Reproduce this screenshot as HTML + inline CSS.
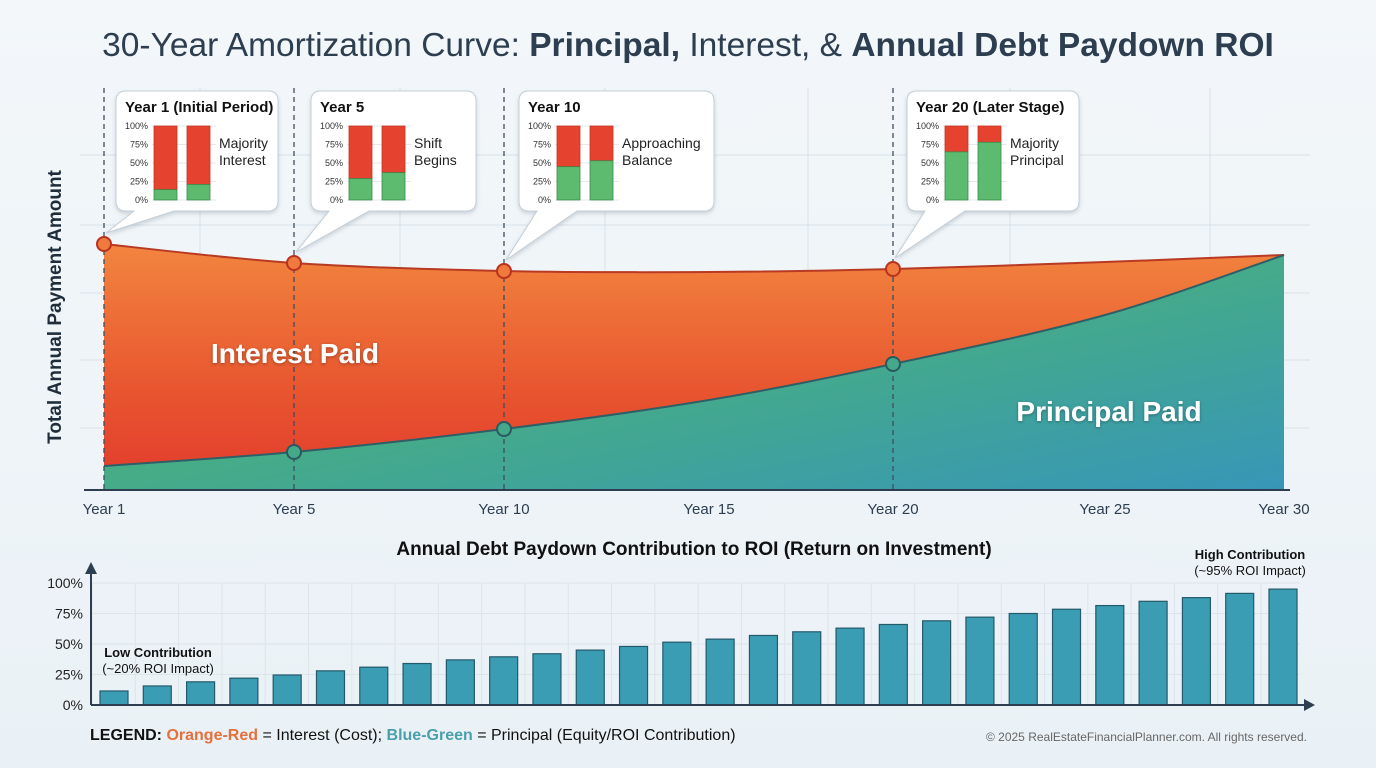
<!DOCTYPE html>
<html><head><meta charset="utf-8">
<style>
html,body{margin:0;padding:0;width:1376px;height:768px;overflow:hidden;background:#eef4f8;font-family:"Liberation Sans",sans-serif}
svg{display:block}
text{font-family:"Liberation Sans",sans-serif}
</style></head>
<body>
<svg id="s" width="1376" height="768" viewBox="0 0 1376 768">
<defs>
<linearGradient id="bg" x1="0" y1="0" x2="0" y2="1"><stop offset="0" stop-color="#f3f7fa"/><stop offset="1" stop-color="#eaf1f6"/></linearGradient>
<linearGradient id="gInt" x1="0" y1="0" x2="0" y2="1"><stop offset="0" stop-color="#f2853f"/><stop offset="0.6" stop-color="#e8552f"/><stop offset="1" stop-color="#e23a2c"/></linearGradient>
<linearGradient id="gPri" x1="0" y1="0" x2="1" y2="1"><stop offset="0" stop-color="#5bbd72"/><stop offset="0.5" stop-color="#45ab88"/><stop offset="1" stop-color="#3796b8"/></linearGradient>
<filter id="sh" x="-10%" y="-10%" width="120%" height="130%"><feDropShadow dx="0" dy="2" stdDeviation="2" flood-color="#6a7a8a" flood-opacity="0.3"/></filter>
<filter id="ts"><feDropShadow dx="0" dy="1" stdDeviation="1.5" flood-color="#000" flood-opacity="0.35"/></filter>
</defs>
<rect width="1376" height="768" fill="url(#bg)"/>
<text x="688" y="56" text-anchor="middle" font-size="33.5" fill="#2c3e50">30-Year Amortization Curve: <tspan font-weight="bold">Principal,</tspan> Interest, &amp; <tspan font-weight="bold">Annual Debt Paydown ROI</tspan></text>
<g id="main"></g>
<g id="bottom"></g>
</svg>
<script>
// ---- main chart data ----
const years = [1, 5, 10, 15, 20, 25, 30];
const yearLabels = ["Year 1","Year 5","Year 10","Year 15","Year 20","Year 25","Year 30"];
const totalPayment = [98.4, 90.8, 87.6, 87.2, 88.4, 91.2, 94];
const principalPaid = [9.6, 15.2, 24.4, 36, 50.4, 70, 94];
const markerYears = [1, 5, 10, 20];
// callouts
const calloutTitles = ["Year 1 (Initial Period)","Year 5","Year 10","Year 20 (Later Stage)"];
const calloutNotes = [["Majority","Interest"],["Shift","Begins"],["Approaching","Balance"],["Majority","Principal"]];
const calloutBarA = [14, 29, 45, 65];
const calloutBarB = [21, 37, 53, 78];
const miniTicks = ["100%","75%","50%","25%","0%"];
// ---- bottom chart data ----
const roiBars = [11.5,15.6,19,22,24.6,28,31,34,37,39.5,42,45,48,51.5,54,57,60,63,66,69,72,75,78.5,81.5,85,88,91.5,95];
const roiTicks = [0,25,50,75,100];

const NS="http://www.w3.org/2000/svg";
function mk(tag,attrs,parent){const e=document.createElementNS(NS,tag);for(const k in attrs)e.setAttribute(k,attrs[k]);parent.appendChild(e);return e;}

const tickPx=[104,294,504,709,893,1105,1284];
function xS(yr){for(let i=0;i<years.length-1;i++){if(yr<=years[i+1]){const t=(yr-years[i])/(years[i+1]-years[i]);return tickPx[i]+t*(tickPx[i+1]-tickPx[i]);}}return tickPx[tickPx.length-1];}
const base=490;
function yS(v){return base-v*2.5;}
const main=document.getElementById('main');

[155,225,293,360,428].forEach(y=>{const l=mk('line',{x1:80,x2:1310,y1:y,y2:y,stroke:'#d8e1e9','stroke-width':1},main);

});
[200,400,605,808,1010,1210].forEach(x=>{const l=mk('line',{x1:x,x2:x,y1:88,y2:490,stroke:'#d8e1e9','stroke-width':1},main);

});

function pts(vals){return years.map((yr,i)=>[xS(yr),yS(vals[i])]);}
function smooth(p){let d='';for(let i=0;i<p.length-1;i++){const p0=p[Math.max(0,i-1)],p1=p[i],p2=p[i+1],p3=p[Math.min(p.length-1,i+2)];const c1=[p1[0]+(p2[0]-p0[0])/6,p1[1]+(p2[1]-p0[1])/6],c2=[p2[0]-(p3[0]-p1[0])/6,p2[1]-(p3[1]-p1[1])/6];d+=` C${c1[0]},${c1[1]} ${c2[0]},${c2[1]} ${p2[0]},${p2[1]}`;}return d;}
const tp=pts(totalPayment),pp=pts(principalPaid);
const x0=xS(years[0]),x1=xS(years[years.length-1]);
const intArea=mk('path',{d:`M${tp[0][0]},${tp[0][1]}`+smooth(tp)+` L${x1},${base} L${x0},${base} Z`,fill:'url(#gInt)'},main);


const priArea=mk('path',{d:`M${pp[0][0]},${pp[0][1]}`+smooth(pp)+` L${x1},${base} L${x0},${base} Z`,fill:'url(#gPri)'},main);


const tl=mk('path',{d:`M${tp[0][0]},${tp[0][1]}`+smooth(tp),fill:'none',stroke:'#b83a22','stroke-width':2},main);


const pl=mk('path',{d:`M${pp[0][0]},${pp[0][1]}`+smooth(pp),fill:'none',stroke:'#2f5f66','stroke-width':2},main);



markerYears.forEach(yr=>{const l=mk('line',{x1:xS(yr),x2:xS(yr),y1:88,y2:base,stroke:'#3d4e5e','stroke-width':1.3,'stroke-dasharray':'5,4'},main);

});

const il=mk('text',{x:295,y:363,'text-anchor':'middle','font-size':28,'font-weight':'bold',fill:'#fff',filter:'url(#ts)'},main);il.textContent='Interest Paid';


const pl2=mk('text',{x:1109,y:421,'text-anchor':'middle','font-size':28,'font-weight':'bold',fill:'#fff',filter:'url(#ts)'},main);pl2.textContent='Principal Paid';



markerYears.forEach(yr=>{const i=years.indexOf(yr);
const c=mk('circle',{cx:xS(yr),cy:yS(totalPayment[i]),r:7,fill:'#f07a3e',stroke:'#b8321e','stroke-width':2},main);


if(yr>1){const c2=mk('circle',{cx:xS(yr),cy:yS(principalPaid[i]),r:7,fill:'#45a88a',stroke:'#2a5a60','stroke-width':2},main);

}});

const ax=mk('line',{x1:84,x2:1290,y1:base,y2:base,stroke:'#2c3e50','stroke-width':2},main);


yearLabels.forEach((lab,i)=>{const t=mk('text',{x:xS(years[i]),y:514,'text-anchor':'middle','font-size':15,fill:'#2c3e50'},main);t.textContent=lab;

});
const yt=mk('text',{x:0,y:0,transform:'translate(61,307) rotate(-90)','text-anchor':'middle','font-size':19,'font-weight':'bold',fill:'#1f2d3a'},main);yt.textContent='Total Annual Payment Amount';



const boxX=[116,311,519,907],boxW=[162,165,195,172];
markerYears.forEach((yr,k)=>{
 const g=mk('g',{filter:'url(#sh)'},main);
 
 
 const bx=boxX[k],bw=boxW[k],by=91,bh=120,px=xS(yr),py=yS(totalPayment[years.indexOf(yr)])-11;
 mk('path',{d:`M${bx+10},${by} H${bx+bw-10} Q${bx+bw},${by} ${bx+bw},${by+10} V${by+bh-10} Q${bx+bw},${by+bh} ${bx+bw-10},${by+bh} H${bx+58} L${px+2},${py} L${bx+18},${by+bh} H${bx+10} Q${bx},${by+bh} ${bx},${by+bh-10} V${by+10} Q${bx},${by} ${bx+10},${by} Z`,fill:'#fff',stroke:'#c5cfd8','stroke-width':1},g);
 const tt=mk('text',{x:bx+9,y:by+21,'font-size':15,'font-weight':'bold',fill:'#111'},main);tt.textContent=calloutTitles[k];
 
 
 const top=126,bot=200,h=bot-top;
 miniTicks.forEach((m,j)=>{const t=mk('text',{x:bx+32,y:top+3+j*h/4,'text-anchor':'end','font-size':9,fill:'#333'},main);t.textContent=m;
  
  
  const gl=mk('line',{x1:bx+36,x2:bx+100,y1:top+j*h/4,y2:top+j*h/4,stroke:'#e3e8ec','stroke-width':1},main);
  
  });
 [calloutBarA[k],calloutBarB[k]].forEach((v,j)=>{const x=bx+38+j*33,w=23,gh=h*v/100;
  const r=mk('rect',{x:x,y:top,width:w,height:h-gh,fill:'#e5432f',stroke:'#c53522','stroke-width':0.8},main);
  
  
  const r2=mk('rect',{x:x,y:bot-gh,width:w,height:gh,fill:'#5cbb6e',stroke:'#3a8a4c','stroke-width':0.8},main);
  
  });
 calloutNotes[k].forEach((n,j)=>{const t=mk('text',{x:bx+103,y:148+j*17,'font-size':14,fill:'#222'},main);t.textContent=n;
  
  });
});

const bot=document.getElementById('bottom');
const bBase=705,bTop=583,bx0=91;
function byS(v){return bBase-(bBase-bTop)*v/100;}
function bxS(i){return 114+i*(1283-114)/(roiBars.length-1);}
const bt=mk('text',{x:694,y:555,'text-anchor':'middle','font-size':19,'font-weight':'bold',fill:'#111'},bot);bt.textContent='Annual Debt Paydown Contribution to ROI (Return on Investment)';


roiTicks.forEach(v=>{const y=byS(v);
 const gl=mk('line',{x1:bx0,x2:1300,y1:y,y2:y,stroke:'#dde4ea','stroke-width':1},bot);
 
 
 const t=mk('text',{x:83,y:y+5,'text-anchor':'end','font-size':14,fill:'#222'},bot);t.textContent=v+'%';
 
 });
roiBars.forEach((v,i)=>{const gl=mk('line',{x1:bxS(i)-22,x2:bxS(i)-22,y1:bTop,y2:bBase,stroke:'#dde4ea','stroke-width':1},bot);
 
 });
roiBars.forEach((v,i)=>{const r=mk('rect',{x:bxS(i)-14,y:byS(v),width:28,height:bBase-byS(v),fill:'#3a9db3',stroke:'#245a6a','stroke-width':1.2},bot);
 
 });
const ya=mk('path',{d:`M${bx0},${bBase} V568`,stroke:'#2c3e50','stroke-width':2,fill:'none'},bot);


const yah=mk('path',{d:`M${bx0-6},574 L${bx0},562 L${bx0+6},574 Z`,fill:'#2c3e50'},bot);


const xa=mk('path',{d:`M${bx0},${bBase} H1308`,stroke:'#2c3e50','stroke-width':2,fill:'none'},bot);


const xah=mk('path',{d:`M1304,${bBase-6} L1315,${bBase} L1304,${bBase+6} Z`,fill:'#2c3e50'},bot);


function lbl(x,y,lines,name){const t=mk('text',{x:x,y:y,'text-anchor':'middle','font-size':13,fill:'#111'},bot);
 lines.forEach((l,j)=>{const s=mk('tspan',{x:x,dy:j?16:0,'font-weight':j?'normal':'bold'},t);s.textContent=l;});
 
 }
lbl(158,657,['Low Contribution','(~20% ROI Impact)'],'low-contribution-annotation');
lbl(1250,559,['High Contribution','(~95% ROI Impact)'],'high-contribution-annotation');
const lg=mk('text',{x:90,y:740,'font-size':16,fill:'#111'},bot);
lg.innerHTML='<tspan font-weight="bold">LEGEND: </tspan><tspan font-weight="bold" fill="#e4703c">Orange-Red</tspan> = Interest (Cost); <tspan font-weight="bold" fill="#4aa0aa">Blue-Green</tspan> = Principal (Equity/ROI Contribution)';


const cp=mk('text',{x:1307,y:741,'text-anchor':'end','font-size':12,fill:'#666'},bot);cp.textContent='© 2025 RealEstateFinancialPlanner.com. All rights reserved.';


</script>
</body></html>
